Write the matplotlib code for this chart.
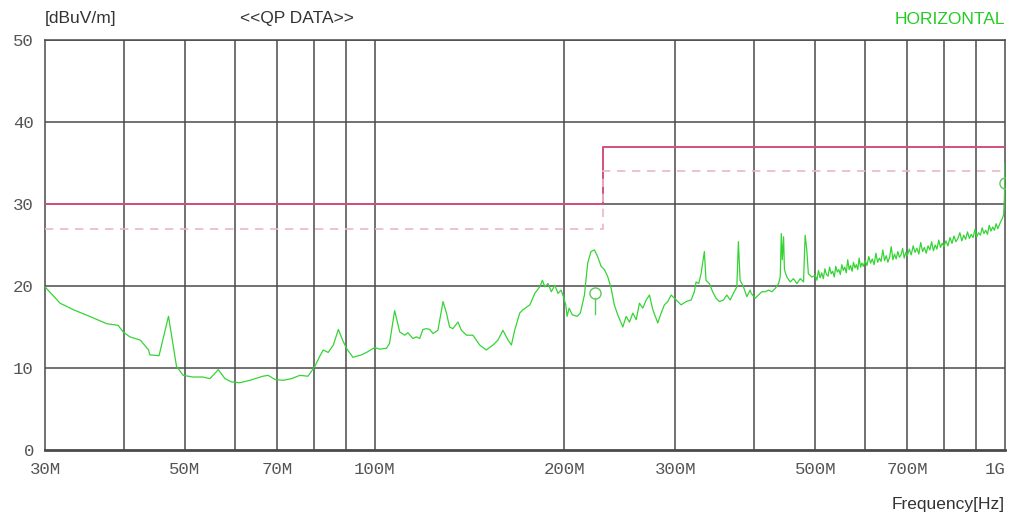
import matplotlib
matplotlib.use("Agg")
import matplotlib.pyplot as plt
from matplotlib.ticker import FixedLocator, NullLocator

# --- QP emission scan, horizontal polarisation ---
freq_mhz = [
    30.0, 31.7, 33.3, 35.3, 37.6, 39.2, 39.9, 40.9, 42.5, 43.8, 44.0, 45.5, 47.1, 48.5, 49.7,
    51.5, 53.4, 54.8, 56.5, 57.9, 59.3, 61.1, 63.4, 66.5, 67.8, 69.5, 71.6, 73.8, 76.1, 78.4,
    80.4, 81.8, 82.9, 84.4, 86.0, 87.6, 89.2, 90.4, 92.4, 95.3, 97.6, 100.0, 101.8, 104.4,
    105.6, 107.6, 109.6, 111.6, 112.9, 115.0, 116.5, 117.9, 119.3, 120.8, 122.3, 123.8, 126.0,
    128.4, 130.0, 131.5, 133.1, 135.6, 137.3, 139.9, 143.2, 146.8, 150.4, 154.1, 156.9, 159.8,
    161.8, 162.8, 164.8, 166.8, 169.9, 171.9, 176.3, 179.5, 182.8, 184.6, 186.2, 188.4, 190.7,
    193.1, 195.4, 197.6, 199.3, 201.0, 202.0, 203.5, 205.8, 209.5, 212.0, 215.2, 217.8, 220.4,
    223.2, 225.8, 228.7, 231.5, 234.4, 237.3, 240.0, 243.0, 247.6, 250.6, 253.7, 256.8, 260.0,
    263.1, 266.3, 269.7, 272.9, 276.3, 281.3, 284.8, 288.2, 291.8, 295.4, 299.0, 302.5, 306.3,
    312.0, 317.8, 321.5, 323.6, 326.7, 329.5, 333.5, 335.5, 339.6, 343.7, 348.1, 352.5, 357.7,
    362.0, 366.5, 370.8, 375.5, 377.6, 380.0, 384.7, 389.5, 394.2, 395.8, 401.5, 406.3, 411.4,
    416.4, 421.6, 426.8, 432.0, 437.3, 440.0, 441.7, 443.3, 445.4, 446.8, 450.7, 456.3, 461.8,
    467.6, 473.4, 479.1, 481.9, 484.8, 487.6, 493.8,
    500, 503, 506, 509, 512, 515, 518, 521, 524, 527, 530, 533, 536, 539, 542, 545, 548, 551,
    554, 557, 560, 563, 566, 569, 572, 575, 578, 581, 584, 587, 590, 593, 596,
    600, 604, 608, 612, 616, 620, 624, 628, 632, 636, 640, 644, 648, 652, 656, 660, 664, 668,
    672, 676, 680, 684, 688, 692, 696, 700,
    705, 710, 715, 720, 725, 730, 735, 740, 745, 750, 755, 760, 765, 770, 775, 780, 785, 790,
    795, 800,
    806, 812, 818, 824, 830, 836, 842, 848, 854, 860, 866, 872, 878, 884, 890, 896, 902, 908,
    914, 920, 926, 932, 938, 944, 950, 956, 962, 968, 974, 980,
    985, 990, 995, 998, 1000,
]
level_dbuv = [
    19.9, 17.9, 17.1, 16.3, 15.4, 15.2, 14.4, 13.8, 13.4, 12.2, 11.6, 11.5, 16.3, 10.2, 9.1,
    8.9, 8.9, 8.7, 9.8, 8.7, 8.3, 8.2, 8.5, 9.0, 9.1, 8.6, 8.5, 8.7, 9.1, 9.0,
    10.2, 11.4, 12.2, 11.9, 12.8, 14.7, 13.2, 12.3, 11.3, 11.6, 12.0, 12.5, 12.3, 12.4,
    13.0, 17.0, 14.4, 14.0, 14.3, 13.6, 13.8, 13.6, 14.7, 14.8, 14.7, 14.2, 14.6,
    18.1, 16.7, 15.0, 14.8, 15.6, 14.6, 14.0, 14.0, 12.8, 12.2, 12.8, 13.4, 14.6,
    13.8, 13.4, 12.8, 14.6, 16.7, 17.1, 17.7, 19.1, 19.9, 20.7, 19.9, 20.3, 19.3,
    20.1, 19.1, 19.5, 18.7, 17.7, 16.3, 17.3, 16.5, 16.3, 16.7, 18.9, 22.8, 24.2,
    24.4, 23.6, 22.4, 22.0, 21.1, 19.7, 17.7, 16.5, 15.0, 16.3, 15.6, 16.7, 15.9,
    17.9, 17.3, 18.3, 18.9, 17.1, 15.5, 16.7, 17.7, 18.1, 18.9, 18.5, 18.1, 17.7,
    18.1, 18.3, 19.3, 20.5, 20.3, 21.5, 24.2, 20.7, 20.3, 19.3, 18.5, 18.1, 18.3,
    18.9, 18.3, 19.1, 19.9, 25.4, 20.7, 19.9, 18.7, 19.5, 19.1, 18.5, 18.9, 19.3,
    19.3, 19.5, 19.3, 19.7, 20.3, 21.1, 26.4, 23.2, 26.0, 22.0, 21.1, 20.5, 20.9,
    20.3, 20.9, 20.5, 26.2, 24.4, 21.5, 21.1,
    21.3, 20.7, 21.9, 21.0, 21.6, 20.9, 22.1, 21.4, 21.2, 22.3, 21.5, 21.8, 21.1, 22.4,
    21.7, 22.0, 21.4, 22.6, 21.9, 22.3, 21.6, 23.2, 22.0, 22.5, 21.8, 22.9, 22.2, 22.6,
    22.0, 23.4, 22.3, 22.8, 22.4,
    23.1, 22.5, 23.6, 22.8, 23.3, 22.6, 24.0, 22.9, 23.4, 23.0, 24.4, 23.1, 23.7, 22.9,
    23.5, 24.8, 23.2, 23.9, 23.3, 24.2, 23.5, 23.8, 24.6, 23.4, 24.1, 23.7,
    24.5, 23.8, 24.9, 24.1, 24.6, 23.9, 25.3, 24.2, 24.7, 24.0, 24.9, 24.4, 25.4, 24.3,
    25.0, 24.5, 25.6, 24.7, 25.2, 24.8,
    25.5, 24.9, 25.9, 25.2, 26.1, 25.4, 25.8, 26.5, 25.5, 26.2, 25.7, 26.6, 25.8, 26.3,
    25.9, 26.9, 26.0, 26.5, 26.2, 27.1, 26.4, 26.8, 26.3, 27.4, 26.7, 27.2, 26.8, 27.6,
    27.0, 27.5,
    27.9, 28.2, 28.7, 30.8, 35.0,
]

# limit line (solid) and margin line (dashed), stepping at 230 MHz
limit_freq = [30, 230, 230, 1000]
limit_level = [30, 30, 37, 37]
margin_level = [27, 27, 34, 34]

# QP measurement markers
marker_freq = [224, 1000]
marker_level = [19.1, 32.6]

grid_freq = [40, 50, 60, 70, 80, 90, 100, 200, 300, 400, 500, 600, 700, 800, 900]
label_freq = [30, 50, 70, 100, 200, 300, 500, 700, 1000]
label_text = ["30M", "50M", "70M", "100M", "200M", "300M", "500M", "700M", "1G"]
y_ticks = [0, 10, 20, 30, 40, 50]

fig = plt.figure(figsize=(10.13, 5.18), dpi=100)
ax = fig.add_axes([45 / 1013, 68 / 518, 960 / 1013, 410 / 518])

ax.plot(limit_freq, limit_level, color="#d2507c", lw=1.4, zorder=3)
ax.plot(limit_freq, margin_level, color="#e9b7c5", lw=1.2, ls=(0, (5, 4)), zorder=3)
ax.plot(freq_mhz, level_dbuv, color="#35d435", lw=0.9, zorder=4)

for f, v in zip(marker_freq, marker_level):
    ax.plot([f, f], [v - 2.5, v - 0.6], color="#5cc85c", lw=1.0, zorder=5)
    ax.plot(f, v, marker="o", ms=8, mfc="none", mec="#5cc85c", mew=1.0, zorder=5)

ax.set_xscale("log")
ax.set_xlim(30, 1000)
ax.set_ylim(0, 50)

ax.xaxis.set_major_locator(FixedLocator(label_freq))
ax.xaxis.set_minor_locator(NullLocator())
ax.set_xticklabels(label_text)
ax.set_yticks(y_ticks)
ax.tick_params(axis="both", length=0, labelcolor="#555555", labelsize=12.5)
ax.tick_params(axis="x", pad=9)
ax.tick_params(axis="y", pad=8)
for lab in ax.get_xticklabels() + ax.get_yticklabels():
    lab.set_family("Liberation Mono")
ax.get_xticklabels()[-1].set_horizontalalignment("right")

for f in grid_freq:
    ax.axvline(f, color="#4a4a4a", lw=1.1, zorder=1)
for v in y_ticks[1:]:
    ax.axhline(v, color="#4a4a4a", lw=1.1, zorder=1)
for side in ax.spines.values():
    side.set_color("#4a4a4a")
    side.set_linewidth(1.1)
ax.spines["bottom"].set_linewidth(2.0)

txt = dict(family="Liberation Sans", fontsize=12.5, va="center")
fig.text(45 / 1013, 1 - 19 / 518, "[dBuV/m]", color="#333333", ha="left", **txt)
fig.text(240 / 1013, 1 - 19 / 518, "<<QP DATA>>", color="#333333", ha="left", **txt)
fig.text(1005 / 1013, 1 - 19 / 518, "HORIZONTAL", color="#22cc22", ha="right", **txt)
fig.text(1005 / 1013, 1 - 505 / 518, "Frequency[Hz]", color="#333333", ha="right", **txt)

fig.savefig("out.png", dpi=100)
